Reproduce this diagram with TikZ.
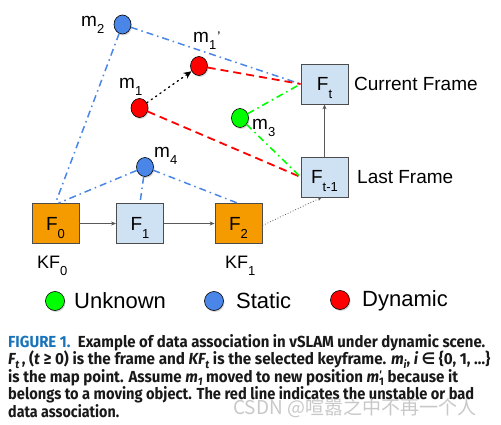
\documentclass[tikz,border=0pt]{standalone}
\usepackage{fontspec}
\usepackage{graphicx}
\setmainfont{Liberation Sans}
\newfontfamily\capfont{Fira Sans}
\newfontfamily\symfont{DejaVu Sans}
\newfontfamily\cjkfont{Noto Sans CJK SC}
\usetikzlibrary{shapes.geometric,arrows.meta,shadows}
\definecolor{kforange}{RGB}{245,155,0}
\definecolor{frblue}{RGB}{207,226,243}
\definecolor{ptblue}{RGB}{74,134,232}
\definecolor{ptred}{RGB}{255,0,0}
\definecolor{ptgreen}{RGB}{0,255,0}
\definecolor{capblue}{RGB}{25,115,185}
\newcommand\lsub[1]{\smash{\raisebox{-8pt}{\fontsize{13}{13}\selectfont #1}}}
\newcommand\msub[1]{\raisebox{-7pt}{\fontsize{13}{13}\selectfont #1}}
\newcommand\capsub[1]{\raisebox{-3.5pt}{\fontsize{11}{11}\selectfont #1}}
\begin{document}
\begin{tikzpicture}[x=1pt,y=-1pt,
  frame/.style={draw=black!70, line width=0.8pt, fill=frblue, minimum width=47pt, minimum height=40pt, inner sep=0pt, font=\fontsize{19}{19}\selectfont},
  keyframe/.style={frame, fill=kforange},
  mpt/.style={ellipse, draw=black, line width=0.6pt, minimum width=17pt, minimum height=19pt, inner sep=0pt, drop shadow={shadow xshift=1pt, shadow yshift=-1.5pt, opacity=0.3}},
  lgpt/.style={mpt, minimum width=19pt, minimum height=19pt},
  mlab/.style={anchor=base west, inner sep=0pt, font=\fontsize{19}{19}\selectfont},
  kflab/.style={anchor=base west, inner sep=0pt, font=\fontsize{18}{18}\selectfont},
  sidelab/.style={anchor=west, inner sep=0pt, font=\fontsize{19}{19}\selectfont},
  leglab/.style={anchor=west, inner sep=0pt, font=\fontsize{22}{22}\selectfont},
  bluedd/.style={ptblue, line width=1.5pt, dash pattern=on 7pt off 4pt on 1.5pt off 4pt},
  greendd/.style={ptgreen, line width=1.6pt, dash pattern=on 7pt off 4pt on 1.5pt off 4pt},
  reddash/.style={ptred, line width=1.8pt, dash pattern=on 8pt off 5pt},
  flow/.style={black!65, line width=0.8pt, -{Stealth[length=5pt,width=4pt]}},
  dotflow/.style={black!65, line width=0.8pt, dotted, -{Stealth[length=4pt,width=4pt]}},
  moveto/.style={black, line width=1.3pt, dash pattern=on 1.3pt off 4pt, line cap=round, -{Stealth[length=8pt,width=7pt]}},
  capline/.style={anchor=base west, inner sep=0pt, font=\capfont\bfseries\fontsize{16}{16}\selectfont, text=black!90},
]
\useasboundingbox[fill=white] (0,0) rectangle (501,425);

% frames
\node[keyframe] (F0) at (55.5,223.5) {F\lsub{0}};
\node[frame] (F1) at (140,223.5) {F\lsub{1}};
\node[keyframe] (F2) at (238.5,223.5) {F\lsub{2}};
\node[frame] (Ft) at (324.5,84) {F\lsub{t}};
\node[frame] (Ftm) at (324.5,177) {F\lsub{t-1}};

% map points
\node[mpt, fill=ptblue] (m2) at (122.5,24.5) {};
\node[mpt, fill=ptred] (m1p) at (199,66) {};
\node[mpt, fill=ptred] (m1) at (139.5,108) {};
\node[mpt, fill=ptgreen] (m3) at (240,118) {};
\node[mpt, fill=ptblue] (m4) at (145,167) {};

% labels
\node[mlab] (lm2) at (81,27) {m\msub{2}};
\node[mlab] (lm1p) at (193,43) {m\msub{1}\hspace{1pt}\raisebox{1pt}{\fontsize{14}{14}\selectfont '}};
\node[mlab] (lm1) at (119,89) {m\msub{1}};
\node[mlab] (lm3) at (252,130) {m\msub{3}};
\node[mlab] (lm4) at (154,158) {m\msub{4}};
\node[kflab] (kf0) at (37,268) {KF\msub{0}};
\node[kflab] (kf1) at (225,268) {KF\msub{1}};
\node[sidelab] (cur) at (354,84) {Current Frame};
\node[sidelab] (last) at (357,177) {Last Frame};

% associations
\draw[bluedd] (m2) -- (F0.north);
\draw[bluedd] (m2) -- (Ft.west);
\draw[reddash] (m1p) -- (Ft.west);
\draw[reddash] (m1) -- (Ftm.west);
\draw[greendd] (m3) -- (Ft.west);
\draw[greendd] (m3) -- (Ftm.west);
\draw[bluedd] (m4) -- ([xshift=3pt]F0.north);
\draw[bluedd] (m4) -- (F1.north);
\draw[bluedd] (m4) -- ([xshift=-1pt]F2.north);
\draw[moveto] (m1) -- (m1p);

% frame flow
\draw[flow] (F0) -- (F1);
\draw[flow] (F1) -- (F2);
\draw[flow] (Ftm) -- (Ft);
\draw[dotflow] ([yshift=-2pt]F2.east) -- ([xshift=-3pt]Ftm.south);

% legend
\node[lgpt, fill=ptgreen] (lg) at (55,301) {};
\node[leglab] (lgt) at (74,301) {Unknown};
\node[lgpt, fill=ptblue] (lb) at (214,301) {};
\node[leglab] (lbt) at (236,301) {Static};
\node[lgpt, fill=ptred] (lr) at (340,300) {};
\node[leglab] (lrt) at (362,301) {Dynamic};

% caption
\node[capline] (c1) at (8,347) {\resizebox{477pt}{\height}{\textcolor{capblue}{FIGURE 1.}\enspace Example of data association in vSLAM under dynamic scene.}};
\node[capline] (c2) at (8,364.5) {\resizebox{482pt}{\height}{{\itshape F\capsub{t}}\,, ({\itshape t} ≥ 0) is the frame and {\itshape KF\capsub{t}} is the selected keyframe. {\itshape m\capsub{i}}, {\itshape i} {\symfont\bfseries ∈} \{0, 1, …\}}};
\node[capline] (c3) at (8,382) {\resizebox{450pt}{\height}{is the map point. Assume {\itshape m\capsub{1}} moved to new position {\itshape m}\rlap{\raisebox{4pt}{\fontsize{11}{11}\selectfont\itshape '}}\capsub{1} because it}};
\node[capline] (c4) at (8,399.5) {\resizebox{466pt}{\height}{belongs to a moving object. The red line indicates the unstable or bad}};
\node[capline] (c5) at (8,417) {\resizebox{111pt}{\height}{data association.}};

% watermark
\node[anchor=base west, inner sep=0pt, text=black!25, opacity=0.85, font=\cjkfont\fontsize{19}{19}\selectfont] (wm) at (233,414) {CSDN @喧嚣之中不再一个人};
\end{tikzpicture}
\end{document}
